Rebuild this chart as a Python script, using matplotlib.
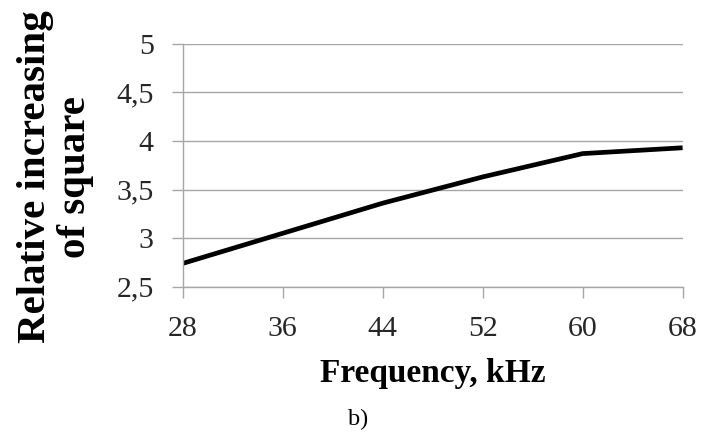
import numpy as np
import matplotlib
matplotlib.use("Agg")
import matplotlib.pyplot as plt

# data
freq = [28, 36, 44, 52, 60, 68]
square = [2.74, 3.05, 3.36, 3.63, 3.87, 3.93]
yticks = [2.5, 3, 3.5, 4, 4.5, 5]
ytick_labels = ["2,5", "3", "3,5", "4", "4,5", "5"]

plt.rcParams['font.family'] = ['Liberation Serif', 'DejaVu Serif']

fig = plt.figure(figsize=(7.03, 4.32), dpi=100)
ax = fig.add_axes([0.26, 0.3363, 0.711, 0.5623])

ax.plot(freq, square, color="black", lw=3.4, solid_capstyle="butt")

ax.set_xlim(28, 68)
ax.set_ylim(2.5, 5)
ax.set_xticks(freq)
ax.set_xticklabels([str(f) for f in freq])
ax.set_yticks(yticks)
ax.set_yticklabels(ytick_labels)

ax.grid(axis="y", color="#a6a6a6", lw=1.0)
ax.set_axisbelow(True)
for s in ["top", "right"]:
    ax.spines[s].set_visible(False)
for s in ["left", "bottom"]:
    ax.spines[s].set_color("#a6a6a6")
    ax.spines[s].set_linewidth(1.0)
ax.tick_params(axis="both", colors="#a6a6a6", length=8, width=1.0,
               labelcolor="#262626", labelsize=21.5)
ax.tick_params(axis="x", pad=13)
ax.tick_params(axis="y", pad=13)

fig.text(0.079, 0.59, "Relative increasing\nof square", rotation=90,
         ha="center", va="center", fontsize=29.5, fontweight="bold",
         linespacing=1.1, multialignment="center")
fig.text(0.615, 0.1157, "Frequency, kHz", ha="center", va="baseline",
         fontsize=24, fontweight="bold")
fig.text(0.509, 0.016, "b)", ha="center", va="baseline", fontsize=17.5)

fig.savefig("out.png", dpi=100, facecolor="white")
